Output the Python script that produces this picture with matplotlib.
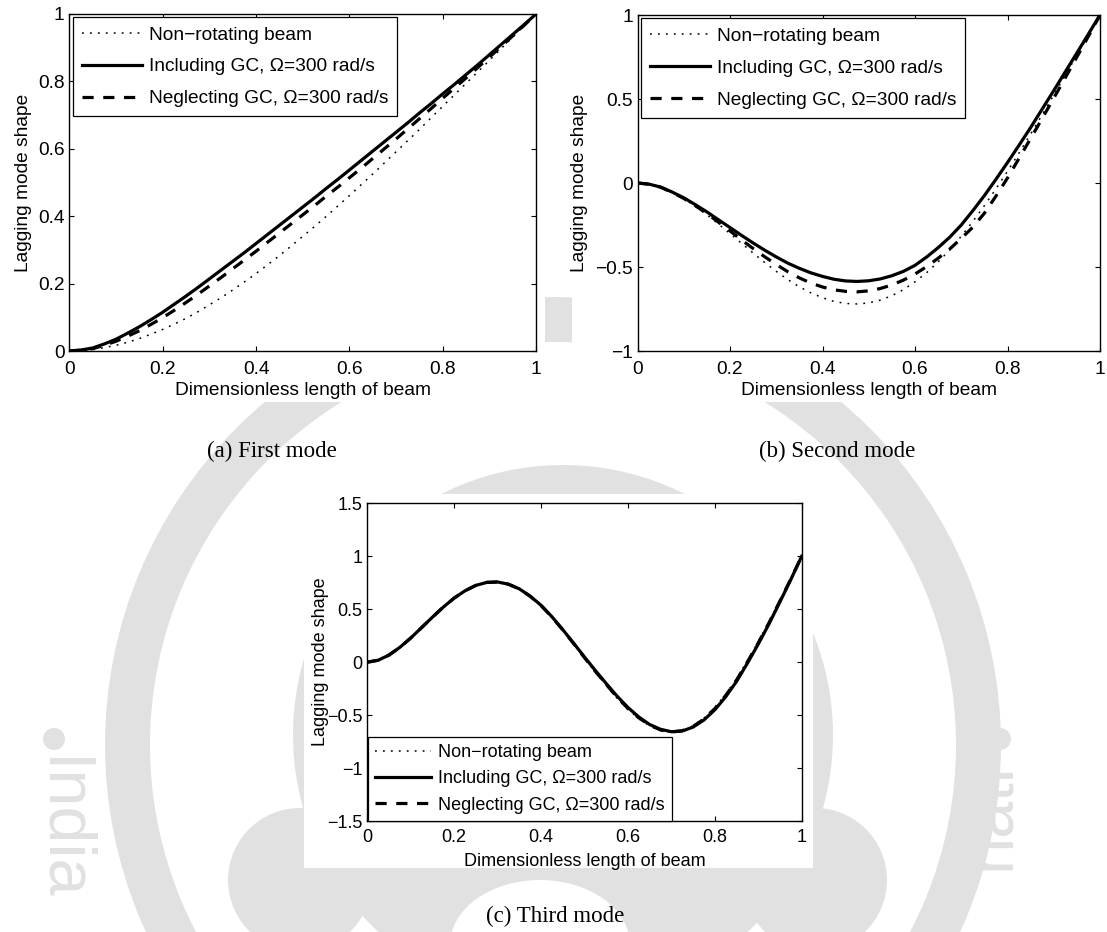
import matplotlib
matplotlib.use("Agg")
import matplotlib.pyplot as plt
from matplotlib.patches import Circle, Wedge, Rectangle, Ellipse

plt.rcParams['font.family'] = ['Liberation Sans', 'DejaVu Sans']

# dimensionless position along the beam
x = [0.000, 0.025, 0.050, 0.075, 0.100, 0.125, 0.150, 0.175, 0.200, 0.225, 0.250,
     0.275, 0.300, 0.325, 0.350, 0.375, 0.400, 0.425, 0.450, 0.475, 0.500,
     0.525, 0.550, 0.575, 0.600, 0.625, 0.650, 0.675, 0.700, 0.725, 0.750,
     0.775, 0.800, 0.825, 0.850, 0.875, 0.900, 0.925, 0.950, 0.975, 1.000]

# first lagging mode
mode1_nonrot = [0, 0.001, 0.004, 0.010, 0.017, 0.026, 0.037, 0.050, 0.064, 0.080, 0.097,
                0.116, 0.137, 0.158, 0.181, 0.205, 0.230, 0.256, 0.283, 0.311, 0.340,
                0.369, 0.399, 0.430, 0.461, 0.493, 0.525, 0.558, 0.591, 0.624, 0.657,
                0.692, 0.726, 0.760, 0.794, 0.828, 0.862, 0.897, 0.931, 0.966, 1.0]
mode1_gc = [0, 0.003, 0.009, 0.021, 0.035, 0.053, 0.072, 0.093, 0.115, 0.139, 0.163,
            0.188, 0.214, 0.240, 0.266, 0.292, 0.319, 0.346, 0.373, 0.400, 0.427,
            0.454, 0.482, 0.509, 0.537, 0.565, 0.593, 0.621, 0.649, 0.677, 0.706,
            0.734, 0.763, 0.791, 0.820, 0.849, 0.879, 0.909, 0.939, 0.969, 1.0]
mode1_nogc = [0, 0.002, 0.007, 0.017, 0.029, 0.044, 0.060, 0.079, 0.099, 0.121, 0.144,
              0.168, 0.193, 0.218, 0.244, 0.270, 0.296, 0.323, 0.350, 0.377, 0.404,
              0.431, 0.459, 0.486, 0.514, 0.542, 0.571, 0.600, 0.629, 0.659, 0.689,
              0.719, 0.750, 0.780, 0.810, 0.841, 0.872, 0.903, 0.935, 0.967, 1.0]

# second lagging mode
mode2_nonrot = [0, -0.007, -0.025, -0.055, -0.093, -0.138, -0.189, -0.244, -0.301, -0.359, -0.417,
                -0.473, -0.526, -0.575, -0.618, -0.654, -0.683, -0.705, -0.717, -0.720, -0.714,
                -0.697, -0.671, -0.635, -0.588, -0.534, -0.470, -0.398, -0.317, -0.229, -0.135,
                -0.035, 0.070, 0.179, 0.292, 0.406, 0.524, 0.642, 0.761, 0.881, 1.0]
mode2_gc = [0, -0.007, -0.024, -0.054, -0.088, -0.129, -0.172, -0.219, -0.265, -0.312, -0.357,
            -0.400, -0.440, -0.477, -0.508, -0.535, -0.556, -0.573, -0.583, -0.586, -0.582,
            -0.571, -0.552, -0.526, -0.490, -0.441, -0.385, -0.323, -0.250, -0.165, -0.075,
            0.022, 0.122, 0.225, 0.330, 0.440, 0.550, 0.662, 0.774, 0.887, 1.0]
mode2_nogc = [0, -0.007, -0.025, -0.056, -0.092, -0.135, -0.182, -0.233, -0.285, -0.339, -0.390,
              -0.439, -0.485, -0.528, -0.565, -0.596, -0.619, -0.636, -0.645, -0.648, -0.642,
              -0.628, -0.607, -0.578, -0.542, -0.498, -0.448, -0.393, -0.330, -0.263, -0.180,
              -0.078, 0.030, 0.147, 0.265, 0.384, 0.505, 0.627, 0.750, 0.874, 1.0]

# third lagging mode
mode3_nonrot = [0, 0.018, 0.067, 0.140, 0.228, 0.326, 0.425, 0.520, 0.605, 0.674, 0.725,
                0.753, 0.757, 0.736, 0.689, 0.620, 0.530, 0.421, 0.301, 0.171, 0.037,
                -0.095, -0.221, -0.341, -0.446, -0.534, -0.601, -0.645, -0.664, -0.650, -0.600,
                -0.528, -0.428, -0.302, -0.156, 0.014, 0.194, 0.384, 0.585, 0.790, 1.0]
mode3_gc = [0, 0.018, 0.067, 0.140, 0.228, 0.326, 0.425, 0.520, 0.605, 0.674, 0.725,
            0.753, 0.757, 0.736, 0.692, 0.623, 0.537, 0.429, 0.307, 0.179, 0.048,
            -0.079, -0.202, -0.321, -0.428, -0.518, -0.589, -0.634, -0.657, -0.650, -0.613,
            -0.546, -0.450, -0.327, -0.182, -0.010, 0.171, 0.363, 0.570, 0.780, 1.0]
mode3_nogc = [0, 0.018, 0.067, 0.140, 0.228, 0.326, 0.425, 0.520, 0.605, 0.674, 0.725,
              0.753, 0.757, 0.736, 0.691, 0.622, 0.534, 0.426, 0.304, 0.175, 0.042,
              -0.087, -0.211, -0.331, -0.437, -0.526, -0.595, -0.640, -0.660, -0.647, -0.607,
              -0.537, -0.439, -0.315, -0.169, 0.002, 0.182, 0.374, 0.578, 0.785, 1.0]

labels = ['Non\u2212rotating beam', 'Including GC, \u03a9=300 rad/s', 'Neglecting GC, \u03a9=300 rad/s']
ticks01 = [0, 0.2, 0.4, 0.6, 0.8, 1]
ticklab01 = ['0', '0.2', '0.4', '0.6', '0.8', '1']

W, H = 1107, 932
fig = plt.figure(figsize=(W / 100, H / 100), dpi=100)

# page background: faint seal behind the figures
bg = fig.add_axes([0, 0, 1, 1])
bg.set_xlim(0, W)
bg.set_ylim(H, 0)
bg.axis('off')
bg.set_zorder(-5)
wm = '#e1e1e1'
bg.add_patch(Wedge((553, 745), 448, 0, 360, width=45, color=wm, lw=0))
bg.add_patch(Circle((563, 735), 270, color=wm, lw=0))
bg.add_patch(Ellipse((540, 945), 180, 130, color='white', lw=0))
bg.add_patch(Circle((300, 880), 72, color=wm, lw=0))
bg.add_patch(Circle((815, 880), 72, color=wm, lw=0))
bg.add_patch(Circle((54, 739), 11, color=wm, lw=0))
bg.add_patch(Circle((1000, 739), 11, color=wm, lw=0))
bg.text(60, 757, 'India', rotation=-90, rotation_mode='anchor', ha='left', va='center',
        fontsize=48, color=wm)
bg.text(992, 762, 'hati', rotation=90, rotation_mode='anchor', ha='right', va='center',
        fontsize=48, color=wm)
# white boxes of the three figures
bg.add_patch(Rectangle((0, 0), 545, 402, color='white', lw=0))
bg.add_patch(Rectangle((572, 0), 535, 402, color='white', lw=0))
bg.add_patch(Rectangle((304, 494), 509, 374, color='white', lw=0))


def panel(rect, yn, yg, yng, ylim, yticks, yticklabels, fs, ylab_x, xlab_y, xpad, legend_kw):
    ax = fig.add_axes(rect)
    ax.plot(x, yn, color='k', lw=1.1, linestyle=(0, (1.2, 4)), label=labels[0])
    ax.plot(x, yg, color='k', lw=2.3, label=labels[1])
    ax.plot(x, yng, color='k', lw=2.3, linestyle=(0, (3.5, 3.0)), label=labels[2])
    ax.set_xlim(0, 1)
    ax.set_ylim(*ylim)
    ax.set_xticks(ticks01)
    ax.set_xticklabels(ticklab01)
    ax.set_yticks(yticks)
    ax.set_yticklabels(yticklabels)
    ax.tick_params(direction='in', top=True, right=True, length=3.6, width=0.8, labelsize=fs)
    ax.tick_params(axis='x', pad=xpad)
    ax.tick_params(axis='y', pad=3.5)
    for s in ax.spines.values():
        s.set_linewidth(1.0)
    ax.set_xlabel('Dimensionless length of beam', fontsize=fs)
    ax.set_ylabel('Lagging mode shape', fontsize=fs)
    ax.yaxis.set_label_coords(ylab_x, 0.5)
    ax.xaxis.set_label_coords(0.5, xlab_y)
    leg = ax.legend(fancybox=False, edgecolor='black', framealpha=1, fontsize=fs,
                    handlelength=3.1, handletextpad=0.38, borderaxespad=0, **legend_kw)
    leg.get_frame().set_linewidth(0.9)
    return ax


def frac(x0, y0, x1, y1):
    return [x0 / W, 1 - y1 / H, (x1 - x0) / W, (y1 - y0) / H]


panel(frac(69.4, 14, 536, 351), mode1_nonrot, mode1_gc, mode1_nogc, (0, 1),
      ticks01, ticklab01, 13.75, -0.080, -0.092, 7.5,
      dict(loc='upper left', bbox_to_anchor=(0.008, 0.991), labelspacing=0.76, borderpad=0.48))

panel(frac(637.5, 15, 1100, 351), mode2_nonrot, mode2_gc, mode2_nogc, (-1, 1),
      [-1, -0.5, 0, 0.5, 1], ['\u22121', '\u22120.5', '0', '0.5', '1'], 13.75, -0.107, -0.092, 7.5,
      dict(loc='upper left', bbox_to_anchor=(0.008, 0.990), labelspacing=0.76, borderpad=0.48))

panel(frac(367.3, 503.3, 801.7, 821), mode3_nonrot, mode3_gc, mode3_nogc, (-1.5, 1.5),
      [-1.5, -1, -0.5, 0, 0.5, 1, 1.5],
      ['\u22121.5', '\u22121', '\u22120.5', '0', '0.5', '1', '1.5'], 13.0, -0.0875, -0.100, 6.0,
      dict(loc='lower left', bbox_to_anchor=(0.002, 0.0), labelspacing=0.52, borderpad=0.4))

# sub-figure captions
cap = dict(fontsize=16.5, family=['Liberation Serif', 'DejaVu Serif'], ha='center', va='center')
fig.text(272 / W, 1 - 451 / H, '(a) First mode', **cap)
fig.text(837 / W, 1 - 451 / H, '(b) Second mode', **cap)
fig.text(555 / W, 1 - 916 / H, '(c) Third mode', **cap)

fig.savefig('out.png', dpi=100)
